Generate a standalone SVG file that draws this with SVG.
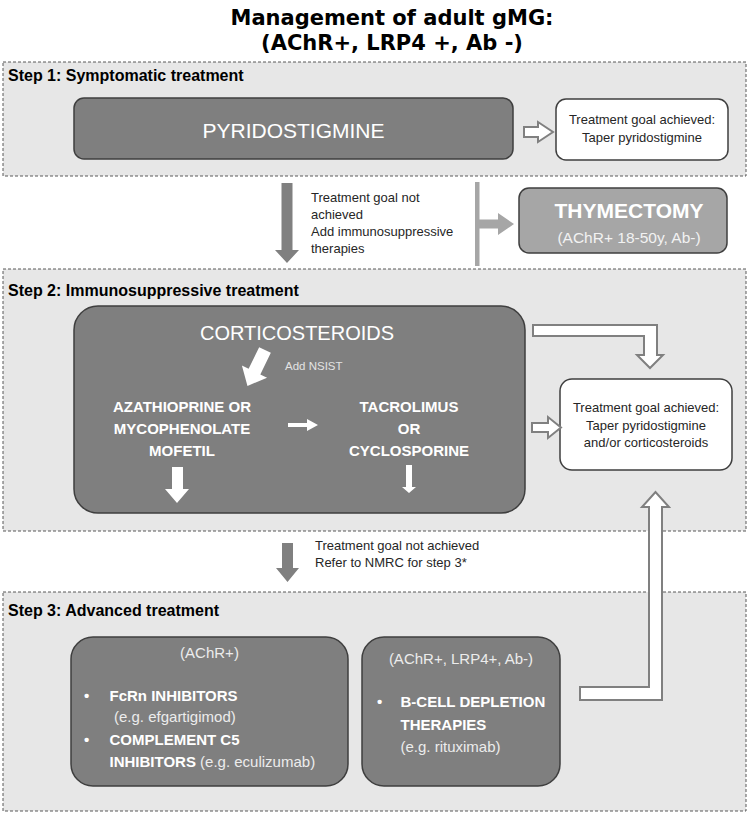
<svg xmlns="http://www.w3.org/2000/svg" width="749" height="813" viewBox="0 0 749 813">
<style>
.step{fill:#e7e7e7;stroke:#595959;stroke-width:1;stroke-dasharray:3 2}
.dark{fill:#7f7f7f;stroke:#3f3f3f;stroke-width:1.5}
.light{fill:#a6a6a6;stroke:#3f3f3f;stroke-width:1.5}
.goal{fill:#fff;stroke:#3f3f3f;stroke-width:1.5}
.f{font-family:"Liberation Sans",Arial,sans-serif}
.steplbl{font-weight:bold;font-size:16px;fill:#000}
.body{font-size:13px;fill:#262626}
.big{fill:#fff}
.wb{font-weight:bold;font-size:15px;fill:#fff}
.wr{font-size:15px;fill:#ececec}
.hollow{fill:#fff;stroke:#808080;stroke-width:2}
.garrow{fill:#808080}
.larrow{fill:#a6a6a6}
.warrow{fill:#fff}
.title{font-family:"DejaVu Sans",sans-serif;font-weight:bold;font-size:21px;fill:#000}
</style>

<g id="title">
<text class="title" x="392" y="25" text-anchor="middle">Management of adult gMG:</text>
<text class="title" x="392" y="50" text-anchor="middle">(AChR+, LRP4 +, Ab -)</text>
</g>

<g id="step1">
<rect class="step" x="3" y="62" width="743" height="114"/>
<text class="f steplbl" x="8" y="81">Step 1: Symptomatic treatment</text>
</g>
<g id="step2">
<rect class="step" x="3" y="269" width="743" height="262"/>
<text class="f steplbl" x="8" y="296">Step 2: Immunosuppressive treatment</text>
</g>
<g id="step3">
<rect class="step" x="3" y="592" width="743" height="219"/>
<text class="f steplbl" x="8" y="616">Step 3: Advanced treatment</text>
</g>

<g id="pyridostigmine">
<rect class="dark" x="74" y="98" width="439" height="61" rx="10"/>
<text class="f big" x="293.5" y="138" font-size="21" text-anchor="middle">PYRIDOSTIGMINE</text>
</g>

<g id="goal1">
<rect class="goal" x="556" y="99" width="172" height="61" rx="10"/>
<text class="f body" x="642" y="124" text-anchor="middle">Treatment goal achieved:</text>
<text class="f body" x="642" y="142" text-anchor="middle">Taper pyridostigmine</text>
</g>

<g id="note1">
<text class="f body" x="311" y="202">Treatment goal not</text>
<text class="f body" x="311" y="219">achieved</text>
<text class="f body" x="311" y="236">Add immunosuppressive</text>
<text class="f body" x="311" y="253">therapies</text>
</g>

<g id="thymectomy">
<rect class="light" x="519" y="188" width="208" height="65" rx="10"/>
<text class="f big" x="629" y="218" font-size="21" font-weight="bold" text-anchor="middle">THYMECTOMY</text>
<text class="f" x="629" y="243" font-size="15.5" fill="#f2f2f2" text-anchor="middle">(AChR+ 18-50y, Ab-)</text>
</g>

<g id="corticosteroids">
<rect class="dark" x="74" y="306" width="451" height="207" rx="24"/>
<text class="f big" x="297" y="340" font-size="20" text-anchor="middle">CORTICOSTEROIDS</text>
<text class="f" x="285" y="370" font-size="11.5" fill="#e3e3e3">Add NSIST</text>
<text class="f wb" x="182" y="412" text-anchor="middle">AZATHIOPRINE OR</text>
<text class="f wb" x="182" y="434" text-anchor="middle">MYCOPHENOLATE</text>
<text class="f wb" x="182" y="456" text-anchor="middle">MOFETIL</text>
<text class="f wb" x="409" y="412" text-anchor="middle">TACROLIMUS</text>
<text class="f wb" x="409" y="434" text-anchor="middle">OR</text>
<text class="f wb" x="409" y="456" text-anchor="middle">CYCLOSPORINE</text>
</g>

<g id="goal2">
<rect class="goal" x="560" y="379" width="172" height="91" rx="12"/>
<text class="f body" x="646" y="412" text-anchor="middle">Treatment goal achieved:</text>
<text class="f body" x="646" y="430" text-anchor="middle">Taper pyridostigmine</text>
<text class="f body" x="646" y="447" text-anchor="middle">and/or corticosteroids</text>
</g>

<g id="note2">
<text class="f body" x="315" y="550">Treatment goal not achieved</text>
<text class="f body" x="315" y="567">Refer to NMRC for step 3*</text>
</g>

<g id="fcrn">
<rect class="dark" x="71" y="637" width="277" height="149" rx="22"/>
<text class="f wr" x="209.5" y="658" text-anchor="middle">(AChR+)</text>
<text class="f wb" x="84" y="701">•</text>
<text class="f wb" x="109.5" y="701">FcRn INHIBITORS</text>
<text class="f wr" x="114" y="722">(e.g. efgartigimod)</text>
<text class="f wb" x="84" y="745">•</text>
<text class="f wb" x="109.5" y="745">COMPLEMENT C5</text>
<text class="f wb" x="109.5" y="767">INHIBITORS<tspan class="wr" font-weight="normal"> (e.g. eculizumab)</tspan></text>
</g>

<g id="bcell">
<rect class="dark" x="362" y="637" width="198" height="149" rx="22"/>
<text class="f wr" x="461" y="664" text-anchor="middle">(AChR+, LRP4+, Ab-)</text>
<text class="f wb" x="377" y="707">•</text>
<text class="f wb" x="400.5" y="707">B-CELL DEPLETION</text>
<text class="f wb" x="400.5" y="730">THERAPIES</text>
<text class="f wr" x="400.5" y="752">(e.g. rituximab)</text>
</g>

<g id="connectors">
<polygon class="hollow" points="524,127 538,127 538,122 553,132 538,142 538,137 524,137"/>
<polygon class="garrow" points="281.5,183 292.5,183 292.5,250 299,250 287,263 275,250 281.5,250"/>
<rect class="larrow" x="475" y="182" width="4.5" height="84"/>
<polygon class="larrow" points="477,219.5 498,219.5 498,213 514,224 498,235 498,228.5 477,228.5"/>
<path class="warrow" d="M0,-6.5 L24,-6.5 L24,-14 L40,0 L24,14 L24,6.5 L0,6.5 Z" transform="translate(265,350) rotate(116)"/>
<polygon class="warrow" points="288,423 307,423 307,419 318,425 307,431 307,427 288,427"/>
<polygon class="warrow" points="172,467 183,467 183,489 189,489 177,503 165,489 172,489"/>
<polygon class="warrow" points="406,465 412,465 412,487 416,487 409,493 402,487 406,487"/>
<polygon class="hollow" points="533,325 657,325 657,355 663,355 650,368 637,355 644,355 644,336 533,336"/>
<polygon class="hollow" points="532,423 548,423 548,417 561,427.5 548,438 548,432 532,432"/>
<polygon class="garrow" points="282,543 293,543 293,568 299,568 287.5,582 276,568 282,568"/>
<polygon class="hollow" points="580,687 649,687 649,507 642,507 655.5,492 669,507 662,507 662,700 580,700"/>
</g>
</svg>
